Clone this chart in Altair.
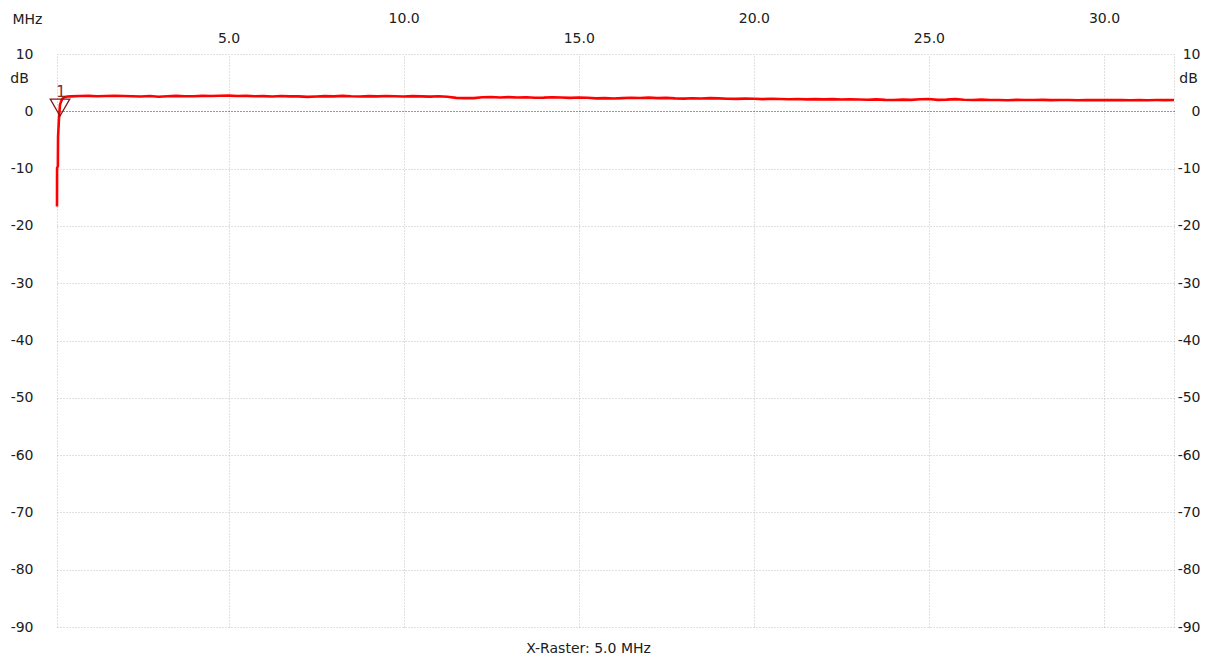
import altair as alt
import pandas as pd

# ---- data ----
# rising edge at the very start of the sweep
edge_freq = [0.100, 0.102, 0.125, 0.130, 0.157, 0.186, 0.243, 0.300, 0.400]
edge_db = [-16.6, -9.9, -9.6, -4.5, -1.2, 1.2, 2.1, 2.45, 2.58]

# flat part of the response (MHz, dB)
flat_freq = [0.5, 0.75,
             1.0, 1.25, 1.5, 1.75, 2.0, 2.25, 2.5, 2.75, 3.0, 3.25, 3.5, 3.75,
             4.0, 4.25, 4.5, 4.75, 5.0, 5.25, 5.5, 5.75, 6.0, 6.25, 6.5, 6.75,
             7.0, 7.25, 7.5, 7.75, 8.0, 8.25, 8.5, 8.75, 9.0, 9.25, 9.5, 9.75,
             10.0, 10.25, 10.5, 10.75, 11.0, 11.25, 11.5, 11.75, 12.0, 12.25, 12.5, 12.75,
             13.0, 13.25, 13.5, 13.75, 14.0, 14.25, 14.5, 14.75, 15.0, 15.25, 15.5, 15.75,
             16.0, 16.25, 16.5, 16.75, 17.0, 17.25, 17.5, 17.75, 18.0, 18.25, 18.5, 18.75,
             19.0, 19.25, 19.5, 19.75, 20.0, 20.25, 20.5, 20.75, 21.0, 21.25, 21.5, 21.75,
             22.0, 22.25, 22.5, 22.75, 23.0, 23.25, 23.5, 23.75, 24.0, 24.25, 24.5, 24.75,
             25.0, 25.25, 25.5, 25.75, 26.0, 26.25, 26.5, 26.75, 27.0, 27.25, 27.5, 27.75,
             28.0, 28.25, 28.5, 28.75, 29.0, 29.25, 29.5, 29.75, 30.0, 30.25, 30.5, 30.75,
             31.0, 31.25, 31.5, 31.75, 32.0]
flat_db = [2.60, 2.66,
           2.70, 2.62, 2.66, 2.72, 2.68, 2.62, 2.58, 2.66, 2.55, 2.64, 2.70, 2.62,
           2.62, 2.70, 2.66, 2.72, 2.74, 2.66, 2.70, 2.62, 2.64, 2.58, 2.66, 2.60,
           2.60, 2.52, 2.58, 2.64, 2.60, 2.70, 2.62, 2.58, 2.64, 2.60, 2.66, 2.62,
           2.58, 2.64, 2.60, 2.56, 2.62, 2.54, 2.34, 2.30, 2.30, 2.44, 2.50, 2.42,
           2.48, 2.40, 2.46, 2.36, 2.38, 2.44, 2.40, 2.34, 2.42, 2.36, 2.26, 2.30,
           2.24, 2.30, 2.36, 2.32, 2.38, 2.30, 2.34, 2.26, 2.22, 2.28, 2.24, 2.30,
           2.26, 2.20, 2.16, 2.22, 2.18, 2.12, 2.18, 2.14, 2.10, 2.14, 2.08, 2.12,
           2.08, 2.12, 2.06, 2.10, 2.06, 2.02, 2.08, 2.00, 1.98, 2.04, 2.00, 2.10,
           2.14, 2.00, 2.04, 2.12, 2.02, 1.98, 2.04, 1.96, 1.98, 1.94, 2.00, 1.96,
           1.96, 2.00, 1.95, 1.98, 1.96, 1.94, 1.98, 1.95, 1.98, 1.95, 1.97, 1.94,
           1.97, 1.94, 1.96, 1.95, 1.96]

marker_freq = [0.186]
marker_db = [-1.0]
marker_label = ["1"]

x_ticks = [0.1, 5, 10, 15, 20, 25, 30, 32]
y_ticks = [-90, -80, -70, -60, -50, -40, -30, -20, -10, 0, 10]
x_domain = [0.1, 32]
y_domain = [-90, 10]

FONT = "DejaVu Sans"
TXT = "#202020"
Y_LABEL = "datum.value < 0 ? '-' + (-datum.value) : '' + datum.value"

trace = pd.DataFrame({"f": edge_freq + flat_freq, "db": edge_db + flat_db})
trace["i"] = range(len(trace))
marker = pd.DataFrame({"f": marker_freq, "db": marker_db, "lab": marker_label})

xscale = alt.Scale(domain=x_domain, nice=False, zero=False)
yscale = alt.Scale(domain=y_domain, nice=False, zero=False)

line = alt.Chart(trace).mark_line(color="#ff0000", strokeWidth=2.6).encode(
    x=alt.X("f:Q", scale=xscale, axis=alt.Axis(
        orient="top", values=x_ticks, grid=True, ticks=False, tickSize=0, domain=False,
        gridColor="#c0c0c0", gridDash=[1, 2], gridWidth=1,
        labelExpr="datum.value % 5 === 0 ? format(datum.value, '.1f') : ''",
        labelPadding={"condition": {"test": "datum.value % 10 === 0", "value": 29}, "value": 9},
        labelFlush=False, labelOverlap=False, labelFont=FONT, labelFontSize=14, labelColor=TXT,
        title="MHz", titleX=-30, titleY=-35, titleAlign="center", titleBaseline="middle",
        titleFont=FONT, titleFontSize=14, titleFontWeight="normal", titleColor=TXT)),
    y=alt.Y("db:Q", scale=yscale, axis=alt.Axis(
        orient="left", values=y_ticks, grid=True, ticks=False, tickSize=0, domain=False,
        gridColor={"condition": {"test": "datum.value === 0", "value": "#303030"}, "value": "#c0c0c0"},
        gridDash=[1, 2], gridWidth=1,
        labelExpr=Y_LABEL,
        labelPadding=24, labelAlign="right", labelBaseline="middle",
        labelFont=FONT, labelFontSize=14, labelColor=TXT,
        title="dB", titleAngle=0, titleX=-38, titleY=24, titleAlign="center",
        titleBaseline="middle", titleFont=FONT, titleFontSize=14,
        titleFontWeight="normal", titleColor=TXT)),
    order="i:Q",
)

mk = alt.Chart(marker).mark_point(
    shape="triangle-down", filled=False, size=380, color="#7a1a1a",
    strokeWidth=1.3, opacity=1, yOffset=-9.5,
).encode(
    x=alt.X("f:Q", scale=xscale, axis=alt.Axis(
        orient="bottom", values=x_ticks, grid=False, ticks=False, labels=False, domain=False,
        title="X-Raster: 5.0 MHz", titleX=531, titleY=21, titleAlign="center",
        titleBaseline="middle", titleFont=FONT, titleFontSize=14,
        titleFontWeight="normal", titleColor=TXT)),
    y=alt.Y("db:Q", scale=yscale, axis=alt.Axis(
        orient="right", values=y_ticks, grid=False, ticks=False, tickSize=0, domain=False,
        labelExpr=Y_LABEL,
        labelPadding=26, labelAlign="right", labelBaseline="middle",
        labelFont=FONT, labelFontSize=14, labelColor=TXT,
        title="dB", titleAngle=0, titleX=14, titleY=24, titleAlign="center",
        titleBaseline="middle", titleFont=FONT, titleFontSize=14,
        titleFontWeight="normal", titleColor=TXT)),
)

lab = alt.Chart(marker).mark_text(
    font=FONT, fontSize=15, color="#8b2a2a", dy=-25, dx=1, baseline="middle"
).encode(
    x=alt.X("f:Q", scale=xscale, axis=None),
    y=alt.Y("db:Q", scale=yscale, axis=None),
    text="lab:N",
)

chart = alt.layer(line, mk, lab).resolve_axis(x="independent", y="independent").properties(
    width=1117, height=573, autosize="none",
    padding={"left": 49, "top": 46, "right": 29, "bottom": 30},
    background="white",
).configure_view(stroke=None)

chart.save("out.html", embed_options={"renderer": "svg", "actions": False})
